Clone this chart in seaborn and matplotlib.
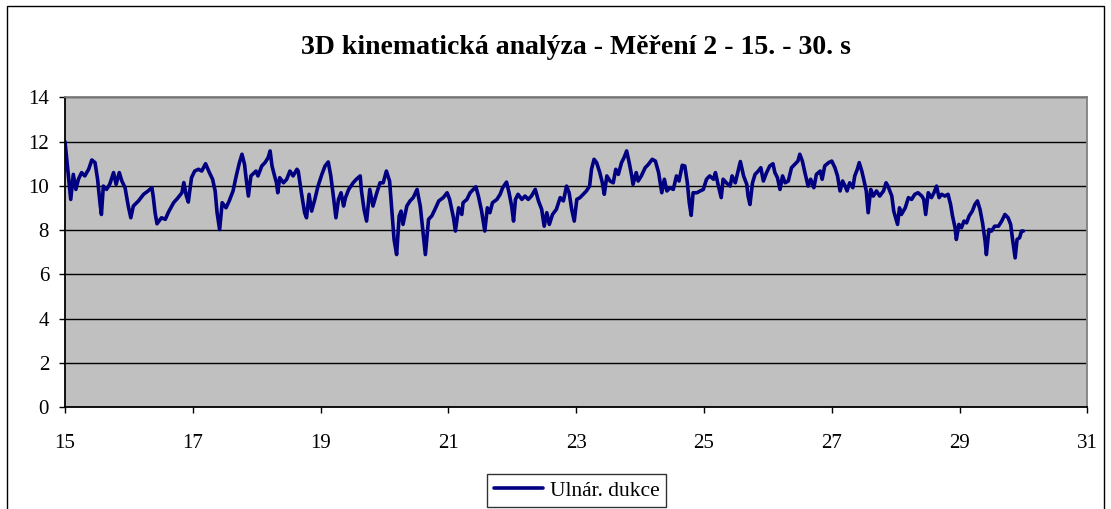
# -*- coding: utf-8 -*-
"""
3D kinematická analýza – měření 2, úsek 15–30 s (ulnární dukce).
"""

import matplotlib
matplotlib.use("Agg")
import matplotlib.pyplot as plt
from matplotlib.patches import Rectangle
import pandas as pd
import seaborn as sns

# ── data ──────────────────────────────────────────────────────────────────────
time_s = [
    15.00, 15.09, 15.13, 15.17, 15.21, 15.26, 15.31, 15.37, 15.42, 15.47,
    15.51, 15.55, 15.57, 15.60, 15.65, 15.70, 15.76, 15.80, 15.85, 15.89,
    15.94, 15.99, 16.03, 16.07, 16.15, 16.23, 16.30, 16.36, 16.38, 16.41,
    16.44, 16.51, 16.57, 16.62, 16.70, 16.77, 16.83, 16.86, 16.90, 16.93,
    16.98, 17.03, 17.09, 17.14, 17.20, 17.26, 17.31, 17.35, 17.38, 17.42,
    17.46, 17.52, 17.57, 17.63, 17.68, 17.73, 17.77, 17.81, 17.83, 17.87,
    17.91, 17.99, 18.02, 18.08, 18.13, 18.18, 18.21, 18.24, 18.28, 18.31,
    18.33, 18.36, 18.42, 18.47, 18.52, 18.57, 18.63, 18.65, 18.70, 18.75,
    18.78, 18.82, 18.86, 18.91, 18.96, 19.02, 19.07, 19.12, 19.16, 19.20,
    19.24, 19.28, 19.32, 19.36, 19.39, 19.44, 19.51, 19.56, 19.62, 19.64,
    19.68, 19.72, 19.77, 19.82, 19.88, 19.93, 19.98, 20.03, 20.08, 20.11,
    20.15, 20.19, 20.23, 20.26, 20.29, 20.35, 20.40, 20.45, 20.51, 20.56,
    20.61, 20.64, 20.69, 20.74, 20.79, 20.85, 20.92, 20.98, 21.02, 21.08,
    21.11, 21.16, 21.21, 21.23, 21.29, 21.34, 21.39, 21.43, 21.47, 21.52,
    21.57, 21.61, 21.65, 21.69, 21.76, 21.81, 21.85, 21.91, 21.95, 21.99,
    22.02, 22.05, 22.09, 22.15, 22.20, 22.25, 22.30, 22.36, 22.41, 22.46,
    22.50, 22.54, 22.58, 22.63, 22.69, 22.75, 22.80, 22.85, 22.89, 22.93,
    22.97, 23.01, 23.06, 23.11, 23.16, 23.21, 23.24, 23.28, 23.32, 23.37,
    23.41, 23.44, 23.48, 23.53, 23.58, 23.62, 23.66, 23.71, 23.75, 23.79,
    23.83, 23.87, 23.89, 23.94, 23.97, 24.02, 24.08, 24.13, 24.19, 24.24,
    24.29, 24.34, 24.38, 24.42, 24.47, 24.52, 24.57, 24.61, 24.66, 24.70,
    24.74, 24.77, 24.80, 24.83, 24.89, 24.94, 24.99, 25.04, 25.09, 25.15,
    25.18, 25.22, 25.27, 25.30, 25.35, 25.41, 25.44, 25.49, 25.54, 25.57,
    25.62, 25.67, 25.69, 25.72, 25.76, 25.80, 25.85, 25.89, 25.93, 25.98,
    26.03, 26.08, 26.11, 26.15, 26.19, 26.23, 26.27, 26.32, 26.37, 26.42,
    26.47, 26.50, 26.54, 26.58, 26.63, 26.67, 26.72, 26.76, 26.82, 26.85,
    26.89, 26.95, 27.00, 27.05, 27.09, 27.13, 27.17, 27.21, 27.24, 27.28,
    27.33, 27.36, 27.40, 27.43, 27.47, 27.50, 27.54, 27.57, 27.61, 27.65,
    27.70, 27.75, 27.81, 27.85, 27.88, 27.94, 27.97, 28.03, 28.06, 28.09,
    28.15, 28.20, 28.25, 28.30, 28.35, 28.41, 28.44, 28.47, 28.51, 28.56,
    28.60, 28.64, 28.68, 28.72, 28.77, 28.82, 28.86, 28.89, 28.93, 28.95,
    28.99, 29.03, 29.07, 29.11, 29.15, 29.20, 29.24, 29.28, 29.32, 29.36,
    29.40, 29.42, 29.46, 29.50, 29.55, 29.61, 29.66, 29.71, 29.76, 29.80,
    29.83, 29.87, 29.90, 29.94, 29.97, 30.00,
]
ulnar_dukce = [
    12.00, 9.39, 10.52, 9.84, 10.30, 10.60, 10.45, 10.75, 11.17, 11.05,
    10.30, 9.16, 8.71, 9.99, 9.84, 10.07, 10.60, 10.07, 10.60, 10.22,
    9.92, 9.09, 8.56, 9.09, 9.32, 9.62, 9.77, 9.92, 9.54, 8.79,
    8.29, 8.56, 8.49, 8.82, 9.24, 9.47, 9.69, 10.15, 9.54, 9.27,
    10.37, 10.67, 10.75, 10.67, 11.00, 10.60, 10.30, 9.77, 8.79, 8.03,
    9.24, 9.01, 9.32, 9.77, 10.45, 11.05, 11.43, 10.97, 10.45, 9.54,
    10.45, 10.67, 10.45, 10.90, 11.05, 11.28, 11.58, 10.90, 10.45, 10.14,
    9.69, 10.37, 10.14, 10.30, 10.67, 10.45, 10.75, 10.67, 9.69, 8.79,
    8.56, 9.62, 8.86, 9.39, 9.99, 10.52, 10.90, 11.08, 10.45, 9.54,
    8.56, 9.39, 9.69, 9.09, 9.47, 9.84, 10.14, 10.30, 10.45, 9.77,
    8.94, 8.41, 9.84, 9.09, 9.69, 10.14, 10.14, 10.67, 10.22, 9.09,
    7.58, 6.90, 8.64, 8.86, 8.26, 9.09, 9.32, 9.47, 9.84, 9.09,
    7.73, 6.90, 8.49, 8.64, 8.94, 9.32, 9.47, 9.69, 9.39, 8.56,
    7.96, 9.01, 8.71, 9.24, 9.39, 9.69, 9.84, 9.96, 9.54, 8.86,
    7.96, 9.01, 8.79, 9.24, 9.39, 9.62, 9.92, 10.17, 9.69, 9.09,
    8.41, 9.39, 9.62, 9.39, 9.54, 9.39, 9.54, 9.84, 9.32, 8.94,
    8.18, 8.79, 8.26, 8.71, 8.94, 9.47, 9.32, 9.99, 9.69, 8.94,
    8.41, 9.39, 9.47, 9.62, 9.77, 9.99, 10.75, 11.20, 11.05, 10.60,
    10.14, 9.62, 10.45, 10.22, 10.14, 10.75, 10.52, 11.05, 11.28, 11.58,
    11.05, 10.45, 10.07, 10.60, 10.22, 10.45, 10.82, 10.97, 11.20, 11.12,
    10.60, 9.69, 10.30, 9.77, 9.92, 9.84, 10.45, 10.22, 10.93, 10.90,
    10.14, 9.24, 8.67, 9.69, 9.69, 9.77, 9.84, 10.30, 10.45, 10.30,
    10.60, 10.07, 9.47, 10.30, 10.14, 9.99, 10.45, 10.14, 10.75, 11.10,
    10.45, 10.07, 9.54, 9.16, 10.14, 10.52, 10.67, 10.82, 10.22, 10.60,
    10.90, 11.00, 10.60, 10.37, 9.84, 10.45, 10.14, 10.22, 10.82, 10.97,
    11.12, 11.43, 11.12, 10.60, 9.99, 10.30, 9.92, 10.52, 10.67, 10.30,
    10.90, 11.05, 11.12, 10.82, 10.45, 9.77, 10.22, 9.99, 9.77, 10.14,
    9.92, 10.45, 10.75, 11.05, 10.67, 10.30, 9.77, 8.79, 9.84, 9.54,
    9.77, 9.54, 9.77, 10.14, 9.99, 9.54, 8.86, 8.26, 9.01, 8.71,
    9.01, 9.47, 9.39, 9.62, 9.69, 9.54, 9.39, 8.71, 9.69, 9.47,
    9.69, 9.99, 9.47, 9.62, 9.54, 9.62, 9.16, 8.64, 8.11, 7.58,
    8.26, 8.11, 8.41, 8.33, 8.64, 8.86, 9.16, 9.32, 8.94, 8.33,
    7.51, 6.90, 8.03, 7.96, 8.18, 8.18, 8.41, 8.71, 8.56, 8.26,
    7.58, 6.75, 7.58, 7.66, 7.96, 7.96,
]
x_ticks = [15, 17, 19, 21, 23, 25, 27, 29, 31]
y_ticks = [0, 2, 4, 6, 8, 10, 12, 14]
titulek = "3D kinematická analýza - Měření 2 - 15. - 30. s"
popisek = "Ulnár. dukce"

sns.set_style("white")
plt.rcParams.update({
    "font.family": ["Liberation Serif", "DejaVu Serif"],
    "font.size": 15,
    "axes.edgecolor": "black",
    "text.color": "black",
    "xtick.color": "black", "ytick.color": "black",
    "xtick.labelcolor": "black", "ytick.labelcolor": "black",
})

df = pd.DataFrame({"cas": time_s, "hodnota": ulnar_dukce})

fig = plt.figure(figsize=(11.11, 5.09), dpi=100)
ax = fig.add_axes([0.0585, 0.1998, 0.9202, 0.609])
ax.set_facecolor("#C0C0C0")

sns.lineplot(data=df, x="cas", y="hodnota", ax=ax, color="#000080",
             lw=2.6, label=popisek, sort=False, estimator=None)

ax.set_xlim(15, 31); ax.set_ylim(0, 14)
ax.set_xticks(x_ticks); ax.set_yticks(y_ticks)
ax.set_xlabel(""); ax.set_ylabel("")
ax.grid(axis="y", color="black", lw=1.0)
ax.grid(axis="x", visible=False)
ax.set_axisbelow(True)
ax.tick_params(axis="both", direction="out", length=4.5, width=1.0,
               color="black", labelcolor="black", labelsize=15,
               left=True, bottom=True)
ax.tick_params(axis="x", pad=15)
ax.tick_params(axis="y", pad=7)
for s in ["left", "bottom"]:
    ax.spines[s].set_color("black"); ax.spines[s].set_linewidth(1.3)
for s in ["top", "right"]:
    ax.spines[s].set_color("#808080"); ax.spines[s].set_linewidth(1.3)

leg = ax.legend(loc="lower center", bbox_to_anchor=(0.519, 0.003),
                bbox_transform=fig.transFigure, fontsize=15.5,
                frameon=True, fancybox=False, borderpad=0.3,
                handlelength=2.3, handletextpad=0.3, borderaxespad=0,
                labelcolor="black")
leg.get_frame().set_edgecolor("black")
leg.get_frame().set_linewidth(1.0)

fig.text(0.518, 0.907, titulek, ha="center", va="center",
         fontsize=20, fontweight="bold", color="black")

# vnější rámeček grafu
fig.add_artist(Rectangle((7 / 1111, -0.05), 1097 / 1111, 1.05 - 6 / 509,
                         transform=fig.transFigure, fill=False,
                         edgecolor="black", lw=1.0))

fig.savefig("out.png", dpi=100)
plt.close(fig)
